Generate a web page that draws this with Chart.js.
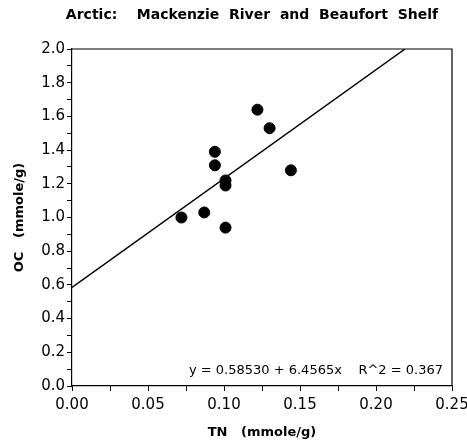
<!DOCTYPE html>
<html>
<head>
<meta charset="utf-8">
<script src="https://cdn.jsdelivr.net/npm/chart.js@4"></script>
<style>
  html, body { margin: 0; padding: 0; background: #fff; }
  #wrap { width: 467px; height: 440px; }
</style>
</head>
<body>
<div id="wrap"><canvas id="chart"></canvas></div>
<script>
// TN vs OC samples (mmole/g)
const tn = [0.072, 0.087, 0.101, 0.122, 0.130, 0.094, 0.094, 0.144, 0.101, 0.101];
const oc = [1.00, 1.03, 0.94, 1.64, 1.53, 1.39, 1.31, 1.28, 1.22, 1.19];

// regression y = a + b*x
const intercept = 0.58530;
const slope = 6.4565;
const rSquared = 0.367;

const xMax = 0.25;
const yMax = 2.0;

const points = tn.map((x, i) => ({ x: x, y: oc[i] }));
const fitLine = [
  { x: 0, y: intercept },
  { x: (yMax - intercept) / slope, y: yMax }
];

const frame = {
  id: 'frame',
  afterDraw(chart) {
    const { ctx, chartArea: a } = chart;
    ctx.save();
    ctx.strokeStyle = '#000';
    ctx.lineWidth = 1.2;
    ctx.beginPath();
    ctx.moveTo(a.left, a.top);
    ctx.lineTo(a.right, a.top);
    ctx.lineTo(a.right, a.bottom);
    ctx.stroke();

    ctx.fillStyle = '#000';
    ctx.font = 'bold 14px "DejaVu Sans"';
    ctx.textAlign = 'center';
    ctx.textBaseline = 'middle';
    ctx.fillText('Arctic:    Mackenzie  River  and  Beaufort  Shelf', 252, 15);

    ctx.font = '13px "DejaVu Sans"';
    ctx.textAlign = 'right';
    ctx.fillText('y = 0.58530 + 6.4565x    R^2 = ' + rSquared.toFixed(3), a.right - 9, a.bottom - 15);
    ctx.restore();
  }
};

new Chart(document.getElementById('chart'), {
  type: 'scatter',
  data: {
    datasets: [
      {
        label: 'samples',
        data: points,
        backgroundColor: '#000',
        borderColor: '#000',
        pointRadius: 5.5,
        pointHoverRadius: 5.5
      },
      {
        type: 'line',
        label: 'fit',
        data: fitLine,
        borderColor: '#000',
        borderWidth: 1.5,
        pointRadius: 0,
        fill: false
      }
    ]
  },
  options: {
    responsive: true,
    maintainAspectRatio: false,
    animation: false,
    layout: { padding: { top: 49, right: 0, left: 0, bottom: 0 } },
    plugins: {
      legend: { display: false },
      tooltip: { enabled: false }
    },
    scales: {
      x: {
        type: 'linear',
        min: 0,
        max: xMax,
        afterFit: s => {
          s.height = 54;
          s.paddingRight = 15;
          s.paddingLeft = 0;
        },
        border: { color: '#000', width: 1.2 },
        grid: { drawOnChartArea: false, tickLength: 5, color: '#000', tickColor: '#000' },
        ticks: {
          stepSize: 0.025,
          color: '#000',
          padding: 5,
          maxRotation: 0,
          autoSkip: false,
          font: { family: 'DejaVu Sans', size: 15 },
          callback: v => (Math.round(v * 40) % 2 === 0 ? v.toFixed(2) : '')
        },
        title: {
          display: true,
          text: 'TN   (mmole/g)',
          color: '#000',
          font: { family: 'DejaVu Sans', size: 13, weight: 'bold' },
          padding: { top: 0, bottom: 0 }
        }
      },
      y: {
        type: 'linear',
        min: 0,
        max: yMax,
        afterFit: s => { s.width = 72; },
        border: { color: '#000', width: 1.2 },
        grid: { drawOnChartArea: false, tickLength: 5, color: '#000', tickColor: '#000' },
        ticks: {
          stepSize: 0.1,
          color: '#000',
          padding: 2,
          autoSkip: false,
          font: { family: 'DejaVu Sans', size: 15 },
          callback: v => (Math.round(v * 10) % 2 === 0 ? v.toFixed(1) : '')
        },
        title: {
          display: true,
          text: 'OC   (mmole/g)',
          color: '#000',
          font: { family: 'DejaVu Sans', size: 13, weight: 'bold' },
          padding: { top: 12, bottom: 0 }
        }
      }
    }
  },
  plugins: [frame]
});
</script>
</body>
</html>
